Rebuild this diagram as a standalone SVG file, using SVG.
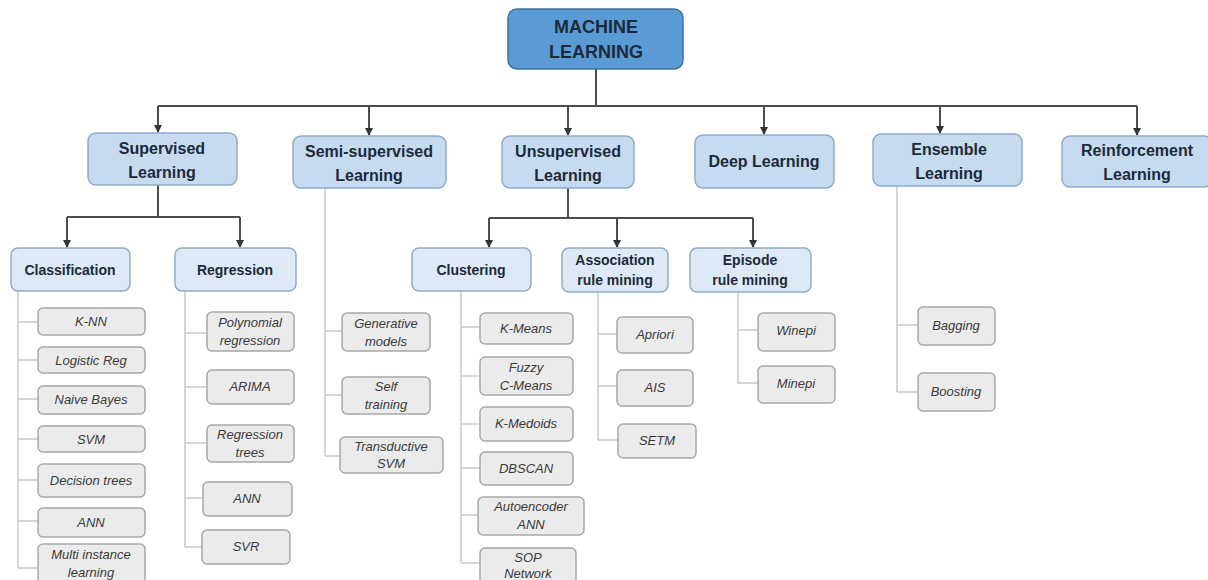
<svg xmlns="http://www.w3.org/2000/svg" width="1208" height="580" viewBox="0 0 1208 580">
<style>
.root{fill:#5b9bd5;stroke:#41719c;stroke-width:1.5}
.l2{fill:#c6dbf0;stroke:#8eaacb;stroke-width:1.5}
.l3{fill:#dde9f5;stroke:#94aac4;stroke-width:1.5}
.leaf{fill:#ebebeb;stroke:#a8a8a8;stroke-width:1.5}
.h{font-family:"Liberation Sans",Arial,sans-serif;font-weight:bold;fill:#1c2a3a;text-anchor:middle}
.h1{font-size:18px}
.h2{font-size:16px}
.h3{font-size:14px}
.t{font-family:"Liberation Sans",Arial,sans-serif;font-style:italic;font-size:13px;fill:#3a3a3a;text-anchor:middle}
.c{fill:none;stroke:#4d4d4d;stroke-width:2}
.cl{fill:none;stroke:#c9c9c9;stroke-width:1.5}
</style>
<defs>
<marker id="arr" viewBox="0 0 8 8" refX="7" refY="4" markerWidth="4" markerHeight="4" orient="auto">
<path d="M0,0 L8,4 L0,8 z" fill="#333"/>
</marker>
</defs>
<rect width="1208" height="580" fill="#fff"/>
<g id="connectors">
<path class="c" d="M596,69 V106"/>
<path class="c" d="M158,106 H1137"/>
<path class="c" d="M158,106 V132" marker-end="url(#arr)"/>
<path class="c" d="M369,106 V135" marker-end="url(#arr)"/>
<path class="c" d="M568,106 V135" marker-end="url(#arr)"/>
<path class="c" d="M764,106 V134" marker-end="url(#arr)"/>
<path class="c" d="M940,106 V133" marker-end="url(#arr)"/>
<path class="c" d="M1137,106 V135" marker-end="url(#arr)"/>
<path class="c" d="M158,185 V217 M67,217 H240"/>
<path class="c" d="M67,217 V247" marker-end="url(#arr)"/>
<path class="c" d="M240,217 V247" marker-end="url(#arr)"/>
<path class="c" d="M568,188 V218 M489,218 H753"/>
<path class="c" d="M489,218 V247" marker-end="url(#arr)"/>
<path class="c" d="M617,218 V247" marker-end="url(#arr)"/>
<path class="c" d="M753,218 V247" marker-end="url(#arr)"/>
<path class="cl" d="M18,291 V568 M18,322 H38 M18,360 H38 M18,399 H38 M18,439 H38 M18,480 H38 M18,521 H38 M18,568 H38"/>
<path class="cl" d="M185,291 V547 M185,333 H207 M185,387 H207 M185,443 H207 M185,498 H203 M185,547 H202"/>
<path class="cl" d="M325,188 V456 M325,331 H342 M325,395 H342 M325,456 H340"/>
<path class="cl" d="M461,291 V563 M461,327 H480 M461,376 H480 M461,424 H480 M461,468 H480 M461,515 H478 M461,563 H480"/>
<path class="cl" d="M598,292 V440 M598,334 H617 M598,386 H617 M598,440 H618"/>
<path class="cl" d="M738,292 V383 M738,330 H758 M738,383 H758"/>
<path class="cl" d="M897,186 V392 M897,325 H918 M897,392 H918"/>
</g>
<g id="machine-learning"><rect class="root" x="508" y="9" width="175" height="60" rx="9"/><text class="h h1" x="596" y="33">MACHINE</text><text class="h h1" x="596" y="58">LEARNING</text></g>
<g id="supervised"><rect class="l2" x="88" y="133" width="149" height="52" rx="8"/><text class="h h2" x="162" y="154">Supervised</text><text class="h h2" x="162" y="178">Learning</text></g>
<g id="semi-supervised"><rect class="l2" x="293" y="136" width="153" height="52" rx="8"/><text class="h h2" x="369" y="157">Semi-supervised</text><text class="h h2" x="369" y="181">Learning</text></g>
<g id="unsupervised"><rect class="l2" x="502" y="136" width="132" height="52" rx="8"/><text class="h h2" x="568" y="157">Unsupervised</text><text class="h h2" x="568" y="181">Learning</text></g>
<g id="deep-learning"><rect class="l2" x="695" y="135" width="139" height="53" rx="8"/><text class="h h2" x="764" y="167">Deep Learning</text></g>
<g id="ensemble"><rect class="l2" x="873" y="134" width="149" height="52" rx="8"/><text class="h h2" x="949" y="155">Ensemble</text><text class="h h2" x="949" y="179">Learning</text></g>
<g id="reinforcement"><rect class="l2" x="1062" y="136" width="150" height="51" rx="8"/><text class="h h2" x="1137" y="156">Reinforcement</text><text class="h h2" x="1137" y="180">Learning</text></g>
<g id="classification"><rect class="l3" x="11" y="248" width="119" height="43" rx="7"/><text class="h h3" x="70" y="275">Classification</text></g>
<g id="regression"><rect class="l3" x="175" y="248" width="121" height="43" rx="7"/><text class="h h3" x="235" y="275">Regression</text></g>
<g id="clustering"><rect class="l3" x="412" y="248" width="119" height="43" rx="7"/><text class="h h3" x="471" y="275">Clustering</text></g>
<g id="association"><rect class="l3" x="562" y="248" width="106" height="44" rx="7"/><text class="h h3" x="615" y="265">Association</text><text class="h h3" x="615" y="285">rule mining</text></g>
<g id="episode"><rect class="l3" x="690" y="248" width="121" height="44" rx="7"/><text class="h h3" x="750" y="265">Episode</text><text class="h h3" x="750" y="285">rule mining</text></g>
<g id="knn"><rect class="leaf" x="38" y="308" width="107" height="27" rx="5"/><text class="t" x="91" y="326">K-NN</text></g>
<g id="logistic"><rect class="leaf" x="38" y="347" width="107" height="26" rx="5"/><text class="t" x="91" y="365">Logistic Reg</text></g>
<g id="naive"><rect class="leaf" x="38" y="386" width="107" height="28" rx="5"/><text class="t" x="91" y="404">Naive Bayes</text></g>
<g id="svm"><rect class="leaf" x="38" y="426" width="107" height="26" rx="5"/><text class="t" x="91" y="444">SVM</text></g>
<g id="dtrees"><rect class="leaf" x="38" y="464" width="107" height="33" rx="5"/><text class="t" x="91" y="485">Decision trees</text></g>
<g id="ann1"><rect class="leaf" x="38" y="508" width="107" height="29" rx="5"/><text class="t" x="91" y="527">ANN</text></g>
<g id="mil"><rect class="leaf" x="38" y="544" width="107" height="42" rx="5"/><text class="t" x="91" y="559">Multi instance</text><text class="t" x="91" y="577">learning</text></g>
<g id="poly"><rect class="leaf" x="207" y="312" width="87" height="39" rx="5"/><text class="t" x="250" y="327">Polynomial</text><text class="t" x="250" y="345">regression</text></g>
<g id="arima"><rect class="leaf" x="207" y="370" width="87" height="34" rx="5"/><text class="t" x="250" y="391">ARIMA</text></g>
<g id="rtrees"><rect class="leaf" x="207" y="425" width="87" height="37" rx="5"/><text class="t" x="250" y="439">Regression</text><text class="t" x="250" y="457">trees</text></g>
<g id="ann2"><rect class="leaf" x="203" y="482" width="89" height="34" rx="5"/><text class="t" x="247" y="503">ANN</text></g>
<g id="svr"><rect class="leaf" x="202" y="530" width="88" height="34" rx="5"/><text class="t" x="246" y="551">SVR</text></g>
<g id="generative"><rect class="leaf" x="342" y="313" width="88" height="38" rx="5"/><text class="t" x="386" y="328">Generative</text><text class="t" x="386" y="346">models</text></g>
<g id="selftraining"><rect class="leaf" x="342" y="377" width="88" height="37" rx="5"/><text class="t" x="386" y="391">Self</text><text class="t" x="386" y="409">training</text></g>
<g id="transductive"><rect class="leaf" x="340" y="437" width="103" height="36" rx="5"/><text class="t" x="391" y="451">Transductive</text><text class="t" x="391" y="468">SVM</text></g>
<g id="kmeans"><rect class="leaf" x="480" y="313" width="93" height="31" rx="5"/><text class="t" x="526" y="333">K-Means</text></g>
<g id="fuzzy"><rect class="leaf" x="480" y="357" width="93" height="38" rx="5"/><text class="t" x="526" y="372">Fuzzy</text><text class="t" x="526" y="390">C-Means</text></g>
<g id="kmedoids"><rect class="leaf" x="480" y="407" width="93" height="34" rx="5"/><text class="t" x="526" y="428">K-Medoids</text></g>
<g id="dbscan"><rect class="leaf" x="480" y="452" width="93" height="33" rx="5"/><text class="t" x="526" y="473">DBSCAN</text></g>
<g id="autoencoder"><rect class="leaf" x="478" y="497" width="106" height="38" rx="5"/><text class="t" x="531" y="511">Autoencoder</text><text class="t" x="531" y="529">ANN</text></g>
<g id="sop"><rect class="leaf" x="480" y="548" width="96" height="40" rx="5"/><text class="t" x="528" y="562">SOP</text><text class="t" x="528" y="578">Network</text></g>
<g id="apriori"><rect class="leaf" x="617" y="317" width="76" height="36" rx="5"/><text class="t" x="655" y="339">Apriori</text></g>
<g id="ais"><rect class="leaf" x="617" y="370" width="76" height="36" rx="5"/><text class="t" x="655" y="392">AIS</text></g>
<g id="setm"><rect class="leaf" x="618" y="424" width="78" height="34" rx="5"/><text class="t" x="657" y="445">SETM</text></g>
<g id="winepi"><rect class="leaf" x="758" y="313" width="77" height="38" rx="5"/><text class="t" x="796" y="335">Winepi</text></g>
<g id="minepi"><rect class="leaf" x="758" y="366" width="77" height="37" rx="5"/><text class="t" x="796" y="388">Minepi</text></g>
<g id="bagging"><rect class="leaf" x="918" y="307" width="77" height="38" rx="5"/><text class="t" x="956" y="330">Bagging</text></g>
<g id="boosting"><rect class="leaf" x="918" y="373" width="77" height="38" rx="5"/><text class="t" x="956" y="396">Boosting</text></g>
</svg>
